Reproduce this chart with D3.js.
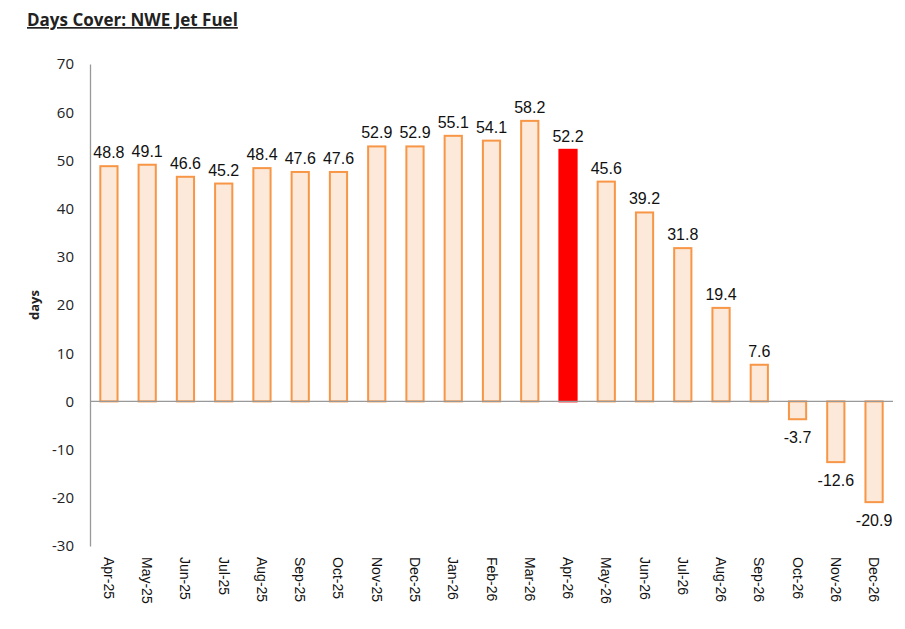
<!DOCTYPE html>
<html>
<head>
<meta charset="utf-8">
<script src="https://cdn.jsdelivr.net/npm/d3@7"></script>
<style>
  body { margin: 0; background: #fff; }
</style>
</head>
<body>
<div id="chart"></div>
<script>
// chart data
const months = ["Apr-25", "May-25", "Jun-25", "Jul-25", "Aug-25", "Sep-25", "Oct-25",
  "Nov-25", "Dec-25", "Jan-26", "Feb-26", "Mar-26", "Apr-26", "May-26", "Jun-26",
  "Jul-26", "Aug-26", "Sep-26", "Oct-26", "Nov-26", "Dec-26"];
const daysCover = [48.8, 49.1, 46.6, 45.2, 48.4, 47.6, 47.6, 52.9, 52.9, 55.1, 54.1,
  58.2, 52.2, 45.6, 39.2, 31.8, 19.4, 7.6, -3.7, -12.6, -20.9];
const highlight = ["Apr-26"];
const yTicks = [-30, -20, -10, 0, 10, 20, 30, 40, 50, 60, 70];

const W = 905, H = 629;
const svg = d3.select("#chart").append("svg")
  .attr("width", W)
  .attr("height", H);

// scales
const x = d3.scaleBand()
  .domain(months)
  .range([90, 893])
  .paddingInner(0.55)
  .paddingOuter(0.27);

const y = d3.scaleLinear()
  .domain([-30, 70])
  .range([546, 64]);

// title
svg.append("text")
  .attr("x", 27)
  .attr("y", 26)
  .style("font-family", "'Open Sans', sans-serif")
  .style("font-weight", "bold")
  .style("font-size", "17px")
  .style("text-decoration", "underline")
  .attr("fill", "#222")
  .text("Days Cover: NWE Jet Fuel");

// y axis
const yAxis = svg.append("g")
  .attr("transform", "translate(90,0)")
  .call(d3.axisLeft(y).tickValues(yTicks).tickSize(0).tickPadding(16)
    .tickFormat(d => String(d)));
yAxis.select(".domain").attr("stroke", "#999").attr("stroke-width", 1.3);
yAxis.selectAll("text")
  .style("font-family", "'Open Sans', sans-serif")
  .style("font-size", "15px")
  .attr("fill", "#222");

svg.append("text")
  .attr("transform", `translate(39, ${y(20)}) rotate(-90)`)
  .attr("text-anchor", "middle")
  .style("font-family", "'Open Sans', sans-serif")
  .style("font-weight", "bold")
  .style("font-size", "13px")
  .attr("fill", "#222")
  .text("days");

// bars
const rows = months.map((m, i) => ({ month: m, value: daysCover[i] }));

svg.append("g").selectAll("rect")
  .data(rows)
  .join("rect")
  .attr("x", d => x(d.month))
  .attr("width", x.bandwidth())
  .attr("y", d => y(Math.max(0, d.value)))
  .attr("height", d => Math.abs(y(d.value) - y(0)))
  .attr("fill", d => highlight.includes(d.month) ? "#ff0000" : "#fde9d9")
  .attr("stroke", d => highlight.includes(d.month) ? "#ff0000" : "#f79646")
  .attr("stroke-width", 2);

// zero line
svg.append("line")
  .attr("x1", 90).attr("x2", 893)
  .attr("y1", y(0)).attr("y2", y(0))
  .attr("stroke", "#999")
  .attr("stroke-width", 1.3);

// value labels
svg.append("g").selectAll("text")
  .data(rows)
  .join("text")
  .attr("x", d => x(d.month) + x.bandwidth() / 2)
  .attr("y", d => d.value >= 0 ? y(d.value) - 8 : y(d.value) + 24)
  .attr("text-anchor", "middle")
  .style("font-family", "'Liberation Sans', Arial, sans-serif")
  .style("font-size", "16px")
  .attr("fill", "#111")
  .text(d => d.value.toFixed(1));

// x labels, rotated
svg.append("g").selectAll("text")
  .data(months)
  .join("text")
  .attr("transform", d => `translate(${x(d) + x.bandwidth() / 2 - 5}, 557) rotate(90)`)
  .style("font-family", "'Liberation Sans', Arial, sans-serif")
  .style("font-size", "14px")
  .attr("fill", "#111")
  .text(d => d);
</script>
</body>
</html>
